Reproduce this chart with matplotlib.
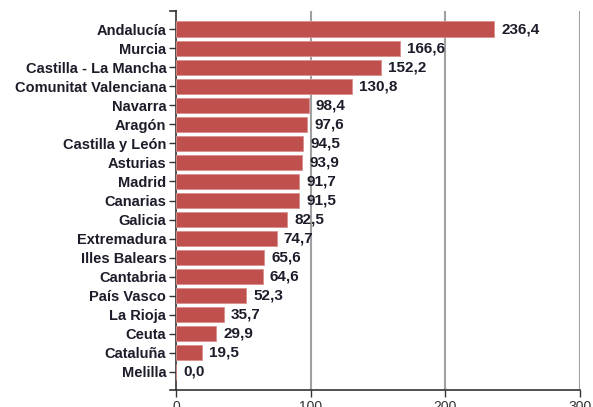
import matplotlib.pyplot as plt

regions = ["Andalucía", "Murcia", "Castilla - La Mancha", "Comunitat Valenciana",
           "Navarra", "Aragón", "Castilla y León", "Asturias", "Madrid", "Canarias",
           "Galicia", "Extremadura", "Illes Balears", "Cantabria", "País Vasco",
           "La Rioja", "Ceuta", "Cataluña", "Melilla"]
values = [236.4, 166.6, 152.2, 130.8, 98.4, 97.6, 94.5, 93.9, 91.7, 91.5,
          82.5, 74.7, 65.6, 64.6, 52.3, 35.7, 29.9, 19.5, 0.0]
xticks = [0, 100, 200, 300]

plt.rcParams['font.family'] = ['Liberation Sans', 'DejaVu Sans']

fig = plt.figure(figsize=(5.93, 4.07), dpi=100)
ax = fig.add_axes([176 / 593, 1 - 390 / 407, (580 - 176) / 593, (390 - 11) / 407])

pos = range(len(regions))
ax.barh(pos, values, height=0.8, color='#C0504D', edgecolor='#D98F8C', linewidth=0.6, zorder=3)
for y, v in zip(pos, values):
    ax.annotate(f"{v:.1f}".replace('.', ','), (v, y), xytext=(5, 0), textcoords='offset points',
                va='center', ha='left', fontsize=11, fontweight='bold', color='#1c1c2a')

ax.set_xlim(0, 300)
ax.set_ylim(len(regions) - 0.05, -0.95)
ax.set_yticks(list(pos))
ax.set_yticklabels(regions, fontsize=10.5, fontweight='bold', color='#1c1c2a')
ax.set_xticks(xticks)
ax.set_xticklabels([str(t) for t in xticks], fontsize=10, color='#333333')
ax.tick_params(axis='y', length=5, width=1, color='#333333', pad=2)
ax.tick_params(axis='x', length=5, width=1, color='#333333', pad=2)

for t in xticks[1:]:
    ax.axvline(t, color='#A0A0A0', linewidth=1.5, zorder=1)

for s in ['top', 'right']:
    ax.spines[s].set_visible(False)
for s in ['left', 'bottom']:
    ax.spines[s].set_color('#333333')
    ax.spines[s].set_linewidth(1.2)

# outer ticks at the ends of the axis lines
ax.plot([-0.015, 0], [1, 1], transform=ax.transAxes, color='#333333', lw=1.2, clip_on=False)
ax.plot([-0.015, 0], [0, 0], transform=ax.transAxes, color='#333333', lw=1.2, clip_on=False)

fig.savefig("out.png", dpi=100)
